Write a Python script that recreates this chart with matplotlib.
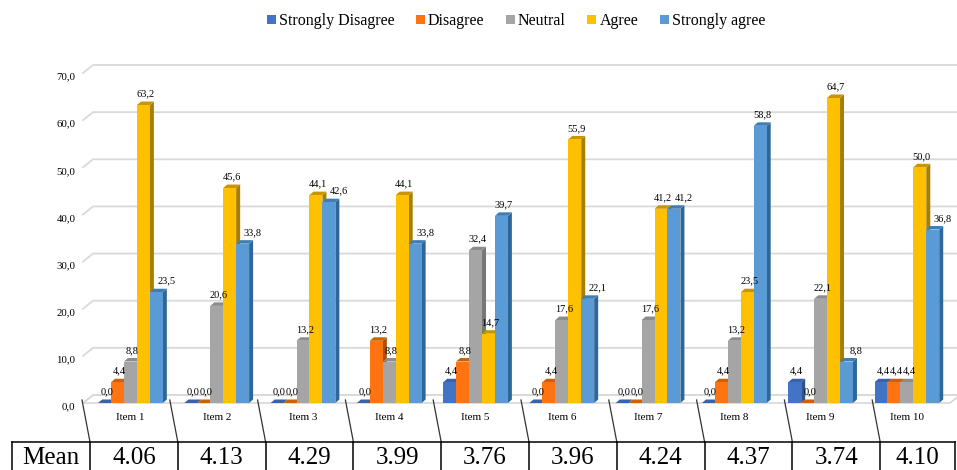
import matplotlib
matplotlib.use("Agg")
import matplotlib.pyplot as plt
from matplotlib.patches import Polygon, Patch
from matplotlib.lines import Line2D
from matplotlib.transforms import ScaledTranslation

plt.rcParams["font.family"] = ["Liberation Serif", "DejaVu Serif"]

# data
items = ["Item 1", "Item 2", "Item 3", "Item 4", "Item 5",
         "Item 6", "Item 7", "Item 8", "Item 9", "Item 10"]
series = ["Strongly Disagree", "Disagree", "Neutral", "Agree", "Strongly agree"]
strongly_disagree = [0.0, 0.0, 0.0, 0.0, 4.4, 0.0, 0.0, 0.0, 4.4, 4.4]
disagree = [4.4, 0.0, 0.0, 13.2, 8.8, 4.4, 0.0, 4.4, 0.0, 4.4]
neutral = [8.8, 20.6, 13.2, 8.8, 32.4, 17.6, 17.6, 13.2, 22.1, 4.4]
agree = [63.2, 45.6, 44.1, 44.1, 14.7, 55.9, 41.2, 23.5, 64.7, 50.0]
strongly_agree = [23.5, 33.8, 42.6, 33.8, 39.7, 22.1, 41.2, 58.8, 8.8, 36.8]
means = ["4.06", "4.13", "4.29", "3.99", "3.76", "3.96", "4.24", "4.37", "3.74", "4.10"]
y_ticks = [0, 10, 20, 30, 40, 50, 60, 70]

front_colors = ["#4472C4", "#FF7410", "#A5A5A5", "#FFC000", "#5B9BD5"]
side_colors = ["#2F528F", "#B04E00", "#777777", "#A87E00", "#2E6797"]
top_colors = ["#3A62AA", "#D05F00", "#8C8C8C", "#C79600", "#3F7DB5"]

W, H = 957, 470
fig = plt.figure(figsize=(W / 100, H / 100), dpi=100)


def fx(x):
    return x / W


def fy(y):
    return 1 - y / H


# plot area in pixels: categories -0.5..9.5 -> 87..950, values 0..70 -> 403..73
ax = fig.add_axes([fx(87.35), fy(403), (950 - 87.35) / W, (403 - 73) / H])
ax.set_xlim(-0.5, 9.5)
ax.set_ylim(0, 70)
for s in ax.spines.values():
    s.set_visible(False)
ax.patch.set_visible(False)

xpx = (950 - 87.35) / 10
ypx = (403 - 73) / 70


def dxu(p):
    return p / xpx


def dyu(p):
    return p / ypx


wdx, wdy = dxu(10), dyu(8)      # back wall offset
bdx, bdy = dxu(4), dyu(3.5)     # bar depth
x0 = -0.5 - dxu(4.3)
x1 = 9.5

# floor
ax.add_patch(Polygon([(x0, 0), (x1, 0), (x1 + wdx, wdy), (x0 + wdx, wdy)],
                     closed=True, facecolor="white", edgecolor="#D0D0D0",
                     lw=1.0, clip_on=False, zorder=1))
# gridlines on back wall
for v in y_ticks:
    ax.plot([x0, x0 + wdx, x1 + wdx], [v, v + wdy, v + wdy], color="#D9D9D9",
            lw=1.3, clip_on=False, zorder=1.5)

values = [strongly_disagree, disagree, neutral, agree, strongly_agree]
bw = 0.15
for j, vals in enumerate(values):
    z = 3 + j * 0.1
    for i, v in enumerate(vals):
        xl = i - 0.375 + j * bw
        xr = xl + bw
        ax.add_patch(Polygon([(xr, 0), (xr + bdx, bdy), (xr + bdx, v + bdy), (xr, v)],
                             closed=True, facecolor=side_colors[j], lw=0,
                             clip_on=False, zorder=z))
        ax.add_patch(Polygon([(xl, v), (xl + bdx, v + bdy), (xr + bdx, v + bdy), (xr, v)],
                             closed=True, facecolor=top_colors[j], lw=0,
                             clip_on=False, zorder=z))
        # nudge the last label right when the neighbour on its left is taller
        shift = 0.0
        if j == len(values) - 1 and values[j - 1][i] >= v:
            shift = dxu(8)
        ax.text(xl + bw / 2 + bdx / 2 + shift, v + bdy + dyu(3),
                f"{v:.1f}".replace(".", ","),
                ha="center", va="bottom", fontsize=7.5, zorder=10)
    ax.bar([i - 0.375 + j * bw for i in range(len(vals))], vals, width=bw,
           align="edge", color=front_colors[j], lw=0, zorder=z + 0.05, clip_on=False)

ax.set_yticks(y_ticks)
ax.set_yticklabels([f"{t:.1f}".replace(".", ",") for t in y_ticks], fontsize=7.8)
ax.tick_params(axis="y", length=0, pad=8.5)
for lab in ax.get_yticklabels():
    lab.set_transform(lab.get_transform() + ScaledTranslation(0, -0.03, fig.dpi_scale_trans))
ax.set_xticks(range(len(items)))
ax.set_xticklabels(items, fontsize=8)
ax.tick_params(axis="x", length=0, pad=7)

# table-like frame below the chart
col_edges = [90 + 87.8 * k for k in range(10)]
for b in col_edges:
    fig.add_artist(Line2D([fx(b - 8), fx(b)], [fy(400), fy(442)], color="#333333",
                          lw=0.9, transform=fig.transFigure))
fig.add_artist(Line2D([fx(12), fx(955)], [fy(442), fy(442)], color="black",
                      lw=1.1, transform=fig.transFigure))
for b in [12] + col_edges + [955]:
    fig.add_artist(Line2D([fx(b), fx(b)], [fy(442), fy(470)], color="black",
                          lw=1.1, transform=fig.transFigure))
fig.text(fx(51), fy(458), "Mean", ha="center", va="center", fontsize=18)
cells = col_edges + [955]
for k, m in enumerate(means):
    fig.text(fx((cells[k] + cells[k + 1]) / 2), fy(458), m, ha="center",
             va="center", fontsize=18)

handles = [Patch(facecolor=c, label=s) for c, s in zip(front_colors, series)]
fig.legend(handles=handles, loc="center", bbox_to_anchor=(fx(516), fy(21)), ncol=5,
           frameon=False, fontsize=11.5, handlelength=0.55, handleheight=0.55,
           handletextpad=0.2, columnspacing=1.35)

fig.savefig("out.png", dpi=100)
